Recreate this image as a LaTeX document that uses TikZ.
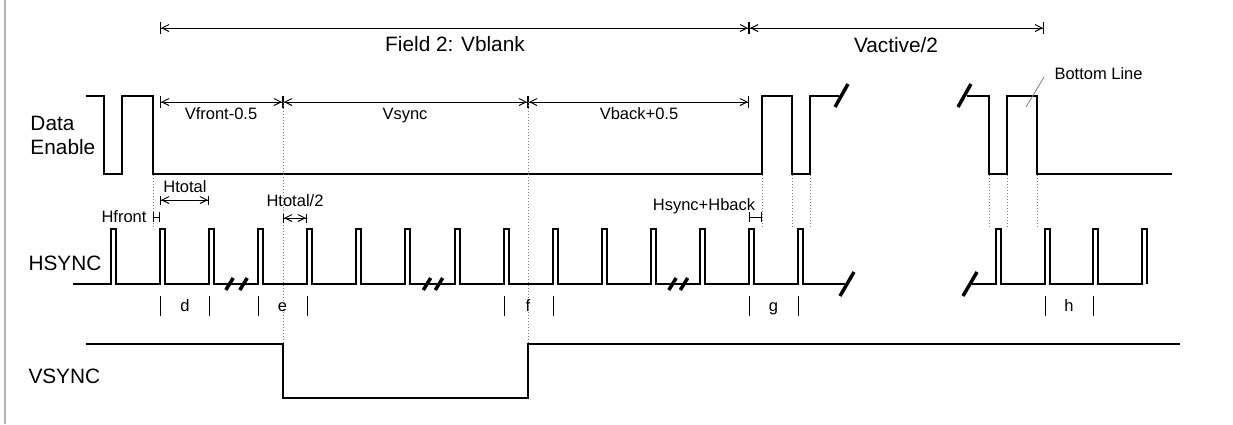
\documentclass[tikz,border=0pt]{standalone}
\usepackage{fontspec}
\setmainfont{Liberation Sans}
\usetikzlibrary{arrows.meta}

\begin{document}
\begin{tikzpicture} [x=0.5pt, y=-0.5pt, line width=0.5pt]
    \tikzstyle{every node}=[inner sep=0pt, font=\fontsize{8.25}{10}\selectfont]
    \tikzstyle{big} = [font=\fontsize{10.4}{12.5}\selectfont]
    \tikzstyle{dim} = [{Bar[width=6pt]Straight Barb[length=3.5pt,width=3.5pt]}-{Straight Barb[length=3.5pt,width=3.5pt]Bar[width=6pt]}]
    \tikzstyle{hdim} = [{Bar[width=4.5pt]Straight Barb[length=3.5pt,width=3.5pt]}-{Straight Barb[length=3.5pt,width=3.5pt]Bar[width=4.5pt]}]
    \tikzstyle{span} = [{Bar[width=5pt]}-{Bar[width=5pt]}]
    \tikzstyle{guide} = [densely dotted, gray]
    \tikzstyle{wave} = [line width=0.75pt]
    \tikzstyle{brk} = [line width=1.75pt]
    \useasboundingbox (0,0) rectangle (1233,424);
    \draw[gray!60, line width=1pt] (5,0) -- (5,424);

    \node[big, anchor=base] (field) at (455,51) {Field 2: Vblank};
    \node[big, anchor=base] (vactive) at (896,52) {Vactive/2};
    \coordinate (f0) at (160,28);
    \coordinate (f1) at (749,28);
    \coordinate (f2) at (1044,28);
    \draw[dim] (f0) -- (f1);
    \draw[dim] (f1) -- (f2);

    \node[anchor=base] (vfront) at (221,119) {Vfront-0.5};
    \node[anchor=base] (vsyncw) at (405,119) {Vsync};
    \node[anchor=base] (vback) at (639,119) {Vback+0.5};
    \coordinate (v0) at (160,102);
    \coordinate (v1) at (283,102);
    \coordinate (v2) at (528,102);
    \coordinate (v3) at (749,102);
    \draw[dim] (v0) -- (v1);
    \draw[dim] (v1) -- (v2);
    \draw[dim] (v2) -- (v3);

    \node[big, anchor=base west] (data) at (30,130) {Data};
    \node[big, anchor=base west] (enable) at (30,154) {Enable};
    \draw[wave] (86,96) -- (104,96) -- (104,174) -- (122,174) -- (122,96) -- (153,96) -- (153,174)
        -- (762,174) -- (762,96) -- (792,96) -- (792,174) -- (810,174) -- (810,96) -- (839,96);
    \draw[wave] (967,96) -- (989,96) -- (989,174) -- (1007,174) -- (1007,96) -- (1037,96) -- (1037,174) -- (1172,174);
    \draw[brk] (835,107) -- (848,84);
    \draw[brk] (958,107) -- (971,84);

    \node[anchor=base west] (bottom) at (1054,79) {Bottom Line};
    \coordinate (bl) at (1026,107);
    \draw[gray, line width=0.4pt] (bottom.west) ++(-10,4) -- (bl);

    \foreach \x in {153,762,792,810,989,1007,1037}
        \draw[guide] (\x,175) -- (\x,229);
    \draw[guide] (v1) -- (283,344);
    \draw[guide] (v2) -- (528,344);

    \node[anchor=base] (htotal) at (185,192) {Htotal};
    \coordinate (ht0) at (160,200);
    \coordinate (ht1) at (209,200);
    \draw[hdim] (ht0) -- (ht1);
    \node[anchor=base east] (hfront) at (147,222) {Hfront};
    \coordinate (hf0) at (153,217);
    \coordinate (hf1) at (160,217);
    \draw[span] (hf0) -- (hf1);
    \node[anchor=base] (hhalf) at (295,206) {Htotal/2};
    \coordinate (hh0) at (283,218);
    \coordinate (hh1) at (307,218);
    \draw[hdim] (hh0) -- (hh1);
    \node[anchor=base] (hsback) at (704,210) {Hsync+Hback};
    \coordinate (hb0) at (749,217);
    \coordinate (hb1) at (762,217);
    \draw[span] (hb0) -- (hb1);

    \node[big, anchor=base west] (hsync) at (28,270) {HSYNC};
    \draw[wave] (73,284) foreach \x in {111,160,209,258,307,356,405,455,504,553,602,651,700,749,798}
        { -- (\x,284) -- (\x,229) -- (\x+5,229) -- (\x+5,284) } -- (845,284);
    \draw[wave] (972,284) foreach \x in {996,1045,1093,1142}
        { -- (\x,284) -- (\x,229) -- (\x+5,229) -- (\x+5,284) };
    \foreach \c in {229.5,243.5,427,439,672.5,684}
        \draw[brk] (\c-3.7,290) -- (\c+3.7,278);
    \draw[brk] (840,296) -- (854,272);
    \draw[brk] (963,296) -- (977,272);

    \foreach \x in {160,209,258,307,504,553,749,798,1045,1093}
        \draw (\x,296) -- (\x,316);
    \foreach \l/\x in {d/185,e/282.5,f/528,g/773.5,h/1069}
        \node[anchor=base] (lbl\l) at (\x,311) {\l};

    \node[big, anchor=base west] (vsync) at (28,383) {VSYNC};
    \draw[wave] (86,344) -- (283,344) -- (283,398) -- (528,398) -- (528,344) -- (1180,344);
\end{tikzpicture}
\end{document}
